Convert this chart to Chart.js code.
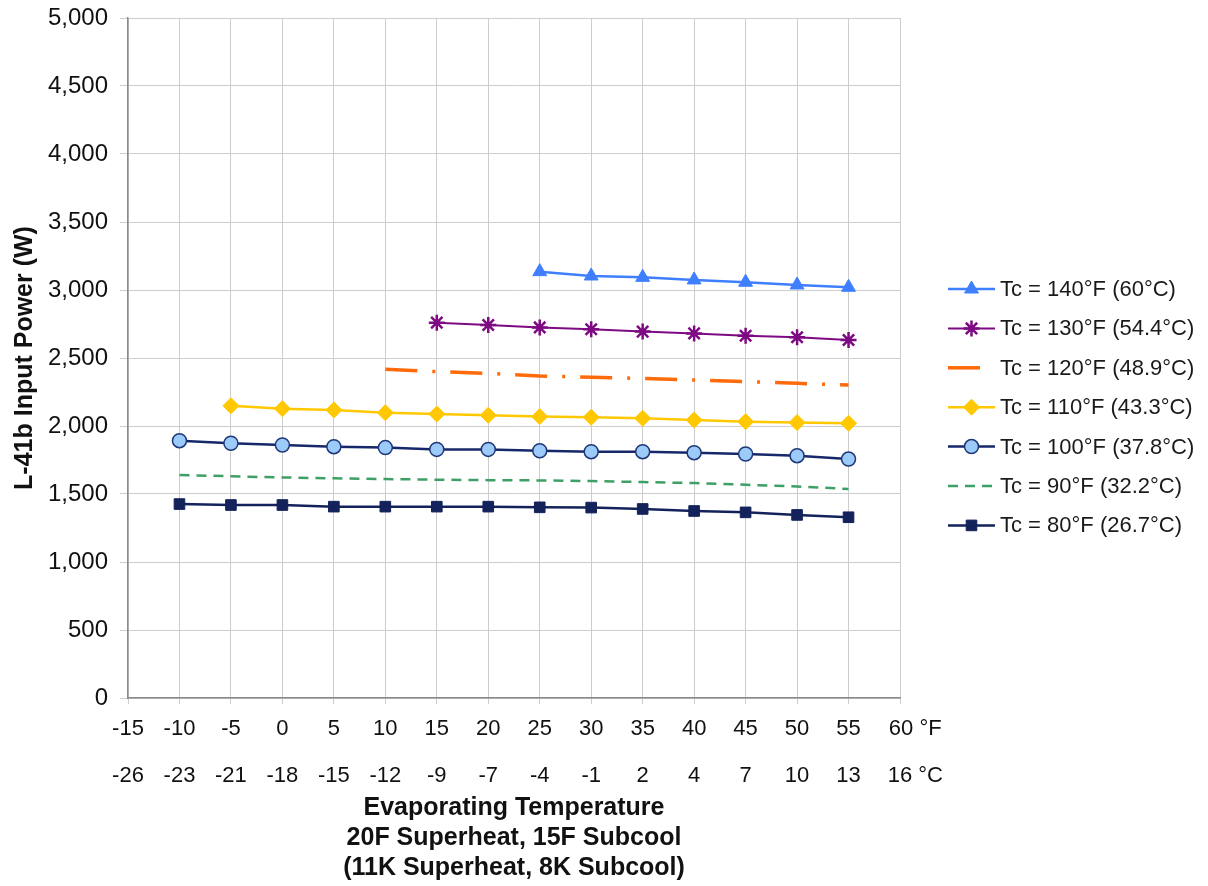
<!DOCTYPE html>
<html>
<head>
<meta charset="utf-8">
<script src="https://cdn.jsdelivr.net/npm/chart.js@4/dist/chart.umd.min.js"></script>
<style>
  html, body { margin: 0; padding: 0; background: #ffffff; }
  #wrap { position: relative; width: 1208px; height: 886px; }
</style>
</head>
<body>
<div id="wrap"><canvas id="c"></canvas></div>
<script>
// ---- Data ----
const evapF = [-10, -5, 0, 5, 10, 15, 20, 25, 30, 35, 40, 45, 50, 55];
const tickF = ['-15', '-10', '-5', '0', '5', '10', '15', '20', '25', '30', '35', '40', '45', '50', '55', '     60 °F'];
const tickC = ['-26', '-23', '-21', '-18', '-15', '-12', '-9', '-7', '-4', '-1', '2', '4', '7', '10', '13', '     16 °C'];

const tc140 = [null, null, null, null, null, null, null, 3135, 3103, 3093, 3074, 3057, 3037, 3020];
const tc130 = [null, null, null, null, null, 2760, 2743, 2725, 2711, 2694, 2681, 2664, 2652, 2632];
const tc120 = [null, null, null, null, 2417, 2400, 2387, 2368, 2358, 2350, 2338, 2326, 2314, 2301];
const tc110 = [null, 2149, 2127, 2118, 2098, 2088, 2079, 2069, 2064, 2057, 2044, 2032, 2025, 2020];
const tc100 = [1892, 1873, 1860, 1848, 1841, 1828, 1828, 1818, 1811, 1811, 1804, 1794, 1782, 1757];
const tc90  = [1640, 1630, 1622, 1615, 1610, 1605, 1602, 1600, 1595, 1588, 1580, 1568, 1555, 1537];
const tc80  = [1426, 1419, 1419, 1407, 1407, 1407, 1407, 1402, 1400, 1390, 1375, 1365, 1346, 1329];

const seriesNames = [
  'Tc = 140°F (60°C)', 'Tc = 130°F (54.4°C)', 'Tc = 120°F (48.9°C)', 'Tc = 110°F (43.3°C)',
  'Tc = 100°F (37.8°C)', 'Tc = 90°F (32.2°C)', 'Tc = 80°F (26.7°C)'
];

const xTitle = ['Evaporating Temperature', '20F Superheat, 15F Subcool', '(11K Superheat, 8K Subcool)'];
const yTitle = 'L-41b Input Power (W)';

const toPts = arr => evapF.map((x, i) => ({ x: x, y: arr[i] }));

const FONT = "'Liberation Sans', Arial, sans-serif";

const datasets = [
  { label: seriesNames[0], data: toPts(tc140), borderColor: '#3F7FFF', backgroundColor: '#3F7FFF',
    borderWidth: 2.5, pointStyle: 'triangle', pointRadius: 8, pointBorderWidth: 1, pointBorderColor: '#3F7FFF' },
  { label: seriesNames[1], data: toPts(tc130), borderColor: '#7E0A83', backgroundColor: '#7E0A83',
    borderWidth: 2, pointStyle: 'star', pointRadius: 8, pointBorderWidth: 2.5, pointBorderColor: '#7E0A83' },
  { label: seriesNames[2], data: toPts(tc120), borderColor: '#FF6A0A', backgroundColor: '#FF6A0A',
    borderWidth: 3.5, borderDash: [32, 15, 3, 15], pointRadius: 0 },
  { label: seriesNames[3], data: toPts(tc110), borderColor: '#FFC800', backgroundColor: '#FFC800',
    borderWidth: 2.5, pointStyle: 'rectRot', pointRadius: 8, pointBorderWidth: 1, pointBorderColor: '#FFC800' },
  { label: seriesNames[4], data: toPts(tc100), borderColor: '#17286A', backgroundColor: '#9CCBFA',
    borderWidth: 2.5, pointStyle: 'circle', pointRadius: 7, pointBorderWidth: 1.5, pointBorderColor: '#1F3778' },
  { label: seriesNames[5], data: toPts(tc90), borderColor: '#3EA066', backgroundColor: '#3EA066',
    borderWidth: 2.5, borderDash: [10, 7], pointRadius: 0 },
  { label: seriesNames[6], data: toPts(tc80), borderColor: '#13225A', backgroundColor: '#13225A',
    borderWidth: 2.5, pointStyle: 'rect', pointRadius: 7.5, pointBorderWidth: 1, pointBorderColor: '#13225A' }
];

// Custom legend: line sample with marker in the middle, like the spreadsheet legend
const sideLegend = {
  id: 'sideLegend',
  afterDraw(chart) {
    const ctx = chart.ctx;
    const x0 = 948, x1 = 995, tx = 1000, y0 = 289, dy = 39.4;
    chart.data.datasets.forEach((ds, i) => {
      const y = y0 + i * dy;
      ctx.save();
      ctx.strokeStyle = ds.borderColor;
      ctx.lineWidth = ds.borderWidth;
      ctx.setLineDash(ds.borderDash || []);
      ctx.beginPath();
      ctx.moveTo(x0, y);
      ctx.lineTo(x1, y);
      ctx.stroke();
      ctx.setLineDash([]);
      if (ds.pointRadius && Chart.helpers && Chart.helpers.drawPoint) {
        ctx.fillStyle = ds.backgroundColor;
        ctx.strokeStyle = ds.pointBorderColor || ds.borderColor;
        ctx.lineWidth = ds.pointBorderWidth || 1;
        Chart.helpers.drawPoint(ctx, {
          pointStyle: ds.pointStyle, radius: ds.pointRadius, rotation: 0,
          borderWidth: ds.pointBorderWidth || 1
        }, (x0 + x1) / 2, y);
      }
      ctx.fillStyle = '#1a1a1a';
      ctx.font = '22px ' + FONT;
      ctx.textAlign = 'left';
      ctx.textBaseline = 'middle';
      ctx.fillText(ds.label, tx, y + 1);
      ctx.restore();
    });
  }
};

new Chart(document.getElementById('c'), {
  type: 'line',
  data: { datasets: datasets },
  plugins: [sideLegend],
  options: {
    responsive: true,
    maintainAspectRatio: false,
    animation: false,
    layout: { padding: { left: 0, right: 308, top: 18, bottom: 0 } },
    plugins: { legend: { display: false }, tooltip: { enabled: false } },
    elements: { line: { tension: 0 } },
    scales: {
      x: {
        type: 'linear',
        min: -15, max: 60,
        afterFit(scale) { scale.height = 188; scale.paddingLeft = 0; scale.paddingRight = 0; },
        ticks: {
          stepSize: 5,
          padding: 1,
          color: '#111',
          font: { family: FONT, size: 22, lineHeight: 2.15 },
          maxRotation: 0,
          autoSkip: false,
          callback: (v) => {
            const i = Math.round((v + 15) / 5);
            return [tickF[i], tickC[i]];
          }
        },
        grid: { color: '#cdcdcd', lineWidth: 1, tickLength: 6, drawTicks: true },
        border: { color: '#8a8a8a', width: 1.5 },
        title: {
          display: true,
          text: xTitle,
          color: '#111',
          font: { family: FONT, size: 25, weight: 'bold', lineHeight: 1.2 },
          padding: { top: 0, bottom: 3 }
        }
      },
      y: {
        min: 0, max: 5000,
        afterFit(scale) { scale.width = 128; scale.paddingTop = 0; scale.paddingBottom = 0; },
        ticks: {
          stepSize: 500,
          padding: 12,
          color: '#111',
          font: { family: FONT, size: 24 },
          callback: (v) => v.toLocaleString('en-US')
        },
        grid: { color: '#cdcdcd', lineWidth: 1, tickLength: 8 },
        border: { color: '#8a8a8a', width: 1.5 },
        title: {
          display: true,
          text: yTitle,
          color: '#111',
          font: { family: FONT, size: 25, weight: 'bold', lineHeight: 1.1 },
          padding: { top: 11, bottom: 0 }
        }
      }
    }
  }
});
</script>
</body>
</html>
